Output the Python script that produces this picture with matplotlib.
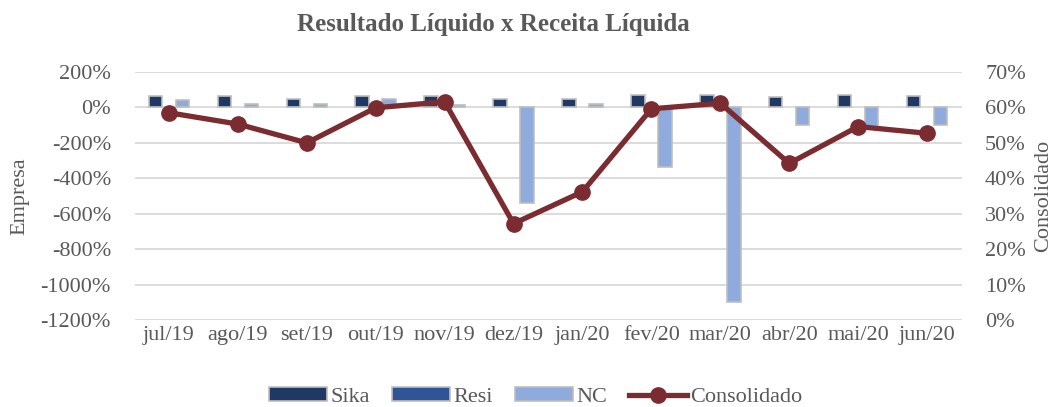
import numpy as np
import matplotlib
matplotlib.use("Agg")
import matplotlib.pyplot as plt
from matplotlib.patches import Patch
from matplotlib.lines import Line2D

months = ["jul/19", "ago/19", "set/19", "out/19", "nov/19", "dez/19",
          "jan/20", "fev/20", "mar/20", "abr/20", "mai/20", "jun/20"]
sika = [65, 63, 50, 63, 66, 48, 48, 70, 70, 57, 70, 65]
resi = [np.nan] * 12
nc = [40, 20, 18, 50, 15, -540, 22, -338, -1100, -98, -104, -98]
consolidado = [0.585, 0.553, 0.500, 0.599, 0.616, 0.272,
               0.362, 0.596, 0.612, 0.442, 0.546, 0.527]

left_ticks = [200, 0, -200, -400, -600, -800, -1000, -1200]
right_ticks = [0.7, 0.6, 0.5, 0.4, 0.3, 0.2, 0.1, 0.0]

GRAY = "#595959"
C_SIKA = "#1F3864"
C_RESI = "#2F5597"
C_NC = "#8FAADC"
C_LINE = "#7B2C30"
EDGE = "#BFBFBF"
FONT = "Liberation Serif"
FS = 16

plt.rcParams["font.family"] = [FONT, "DejaVu Serif"]

fig = plt.figure(figsize=(10.58, 4.07), dpi=100)
ax = fig.add_axes([134.5 / 1058, 1 - 320 / 407, 827 / 1058, 248 / 407])
ax2 = ax.twinx()

x = np.arange(len(months))
w = 0.196
ax.bar(x - w, sika, w, color=C_SIKA, edgecolor=EDGE, linewidth=1.2, zorder=3)
ax.bar(x, resi, w, color=C_RESI, edgecolor=EDGE, linewidth=1.2, zorder=3)
ax.bar(x + w, nc, w, color=C_NC, edgecolor=EDGE, linewidth=1.2, zorder=3)

ax.set_xlim(-0.5, len(months) - 0.5)
ax.set_ylim(-1200, 200)
ax.set_yticks(left_ticks)
ax.set_yticklabels([f"{t}%" for t in left_ticks])
ax.set_xticks(x)
ax.set_xticklabels(months)
ax.grid(axis="y", color="#D9D9D9", linewidth=1.3, zorder=0)
ax.set_axisbelow(True)

ax2.plot(x, consolidado, color=C_LINE, linewidth=3.8, marker="o",
         markersize=11, zorder=5)
ax2.set_ylim(0, 0.7)
ax2.set_yticks(right_ticks)
ax2.set_yticklabels([f"{int(round(t * 100))}%" for t in right_ticks])

for a in (ax, ax2):
    for s in a.spines.values():
        s.set_visible(False)
    a.tick_params(length=0, labelsize=FS, labelcolor=GRAY)
ax.tick_params(axis="y", pad=17)
ax2.tick_params(axis="y", pad=17)
ax.tick_params(axis="x", pad=4)

fig.text(20 / 1058, 1 - 196 / 407, "Empresa", rotation=90, ha="center",
         va="center", fontsize=FS, color=GRAY)
fig.text(1044 / 1058, 1 - 196 / 407, "Consolidado", rotation=90, ha="center",
         va="center", fontsize=FS, color=GRAY)
fig.text(493 / 1058, 1 - 24 / 407, "Resultado Líquido x Receita Líquida",
         ha="center", va="center", fontsize=18, fontweight="bold", color=GRAY)

handles = [
    Patch(facecolor=C_SIKA, edgecolor=EDGE, linewidth=1.2),
    Patch(facecolor=C_RESI, edgecolor=EDGE, linewidth=1.2),
    Patch(facecolor=C_NC, edgecolor=EDGE, linewidth=1.2),
    Line2D([0], [0], color=C_LINE, linewidth=3.8, marker="o", markersize=11),
]
leg = fig.legend(handles, ["Sika", "Resi", "NC", "Consolidado"], loc="center",
                 bbox_to_anchor=(536 / 1058, 1 - 397 / 407), ncol=4,
                 frameon=False, fontsize=FS, handlelength=2.6,
                 handleheight=0.55, handletextpad=0.15, columnspacing=1.0)
for t in leg.get_texts():
    t.set_color(GRAY)

fig.savefig("out.png", dpi=100)
